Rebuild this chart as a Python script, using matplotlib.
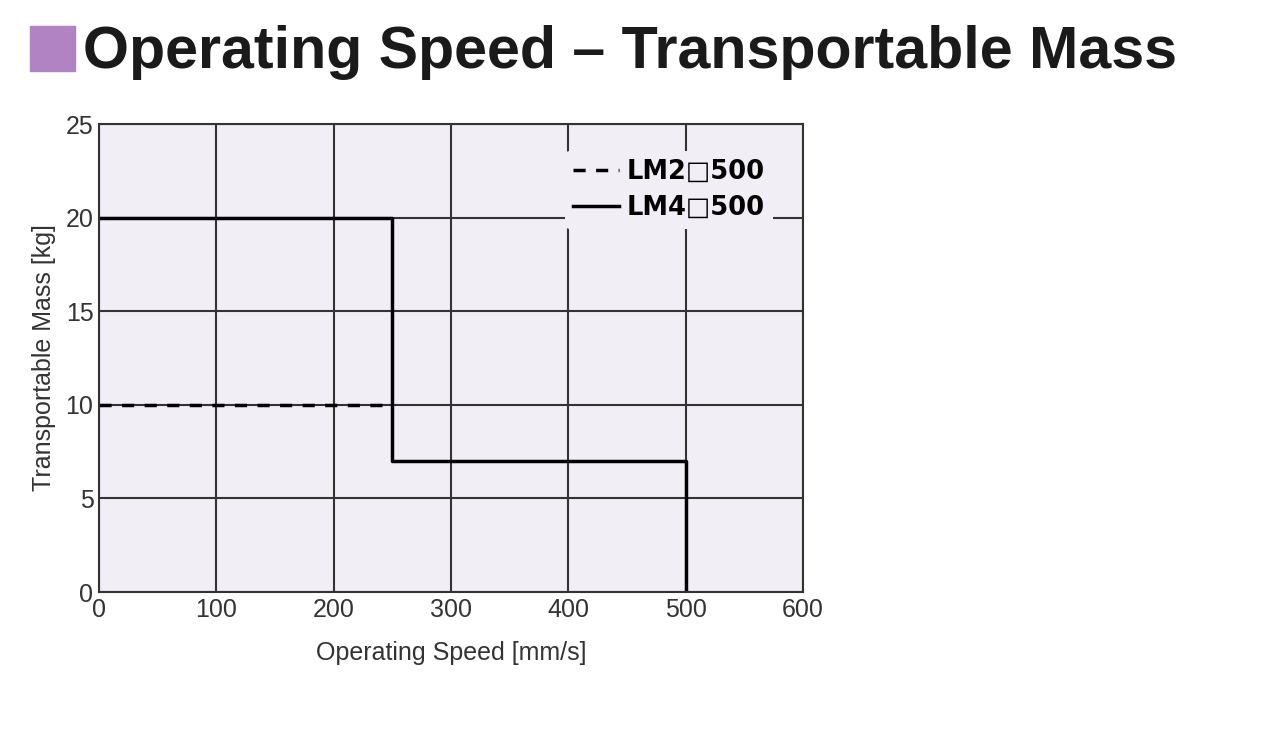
import matplotlib.pyplot as plt
from matplotlib.patches import Rectangle

# data
lm2_speed = [0, 250]
lm2_mass = [10, 10]
lm4_speed = [0, 250, 250, 500, 500]
lm4_mass = [20, 20, 7, 7, 0]
labels = ['LM2\u25a1500', 'LM4\u25a1500']

xticks = [0, 100, 200, 300, 400, 500, 600]
yticks = [0, 5, 10, 15, 20, 25]

plt.rcParams['font.family'] = ['Liberation Sans', 'DejaVu Sans']

fig = plt.figure(figsize=(12.8, 7.29), dpi=100)
fig.patch.set_facecolor('white')

# title with purple square marker
fig.patches.append(Rectangle((30 / 1280, 1 - 71 / 729), 45 / 1280, 45 / 729,
                             transform=fig.transFigure, color='#b283c2'))
fig.text(83 / 1280, 1 - 68 / 729, 'Operating Speed \u2013 Transportable Mass',
         fontsize=42.6, fontweight='bold', color='#1a1a1a',
         va='baseline', ha='left')

ax = fig.add_axes([99 / 1280, 1 - 592 / 729, 704 / 1280, 468 / 729])
ax.set_facecolor('#f1eef6')

ax.plot(lm2_speed, lm2_mass, color='black', lw=2.5, ls=(0, (3.5, 3)), label=labels[0])
ax.plot(lm4_speed, lm4_mass, color='black', lw=2.5, label=labels[1])

ax.set_xlim(0, 600)
ax.set_ylim(0, 25)
ax.set_xticks(xticks)
ax.set_yticks(yticks)
ax.grid(True, color='#333333', lw=1.5)
ax.set_axisbelow(True)
for s in ax.spines.values():
    s.set_color('#333333')
    s.set_linewidth(1.5)
ax.tick_params(length=0, pad=4, labelsize=18, colors='#333333')

ax.set_xlabel('Operating Speed [mm/s]', fontsize=18, color='#333333', labelpad=14)
ax.set_ylabel('Transportable Mass [kg]', fontsize=18, color='#333333', labelpad=7)

leg = ax.legend(loc='upper right', bbox_to_anchor=(0.975, 0.97), frameon=True,
                handlelength=1.8, handletextpad=0.3, labelspacing=0.4,
                prop={'family': 'DejaVu Sans', 'weight': 'bold', 'size': 18.5},
                borderpad=0.3)
leg.get_frame().set_facecolor('#f1eef6')
leg.get_frame().set_edgecolor('none')
leg.get_frame().set_alpha(1)

fig.savefig('out.png', dpi=100)
